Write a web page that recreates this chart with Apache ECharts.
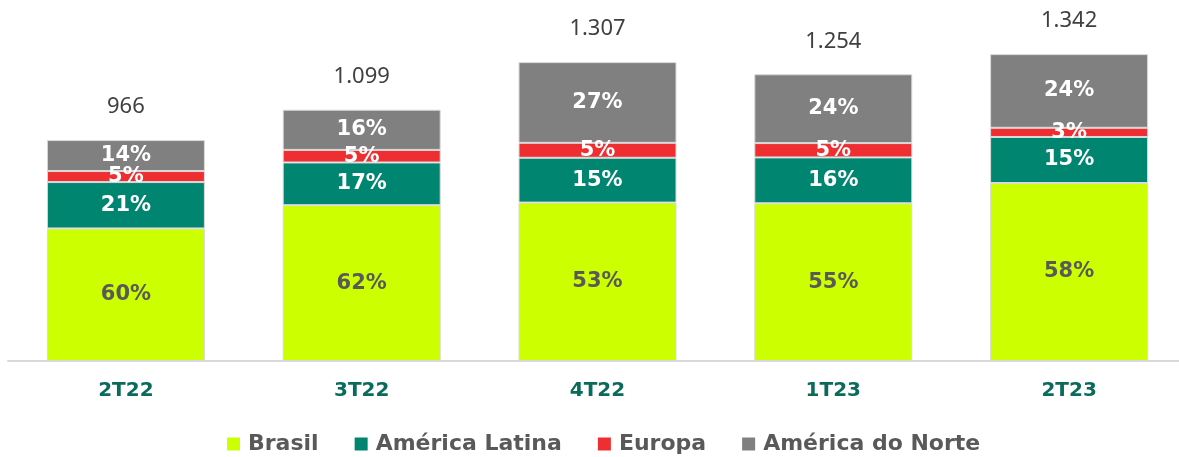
<!DOCTYPE html>
<html>
<head>
<meta charset="utf-8">
<script src="https://cdn.jsdelivr.net/npm/echarts@6/dist/echarts.min.js"></script>
<style>
  html, body { margin: 0; padding: 0; background: #fff; }
  #chart { width: 1179px; height: 457px; }
</style>
</head>
<body>
<div id="chart"></div>
<script>
  // trimestres e totais
  var categories = ['2T22', '3T22', '4T22', '1T23', '2T23'];
  var totals = [966, 1099, 1307, 1254, 1342];
  var totalLabels = ['966', '1.099', '1.307', '1.254', '1.342'];
  // participação por região (%)
  var brasil = [60, 62, 53, 55, 58];
  var americaLatina = [21, 17, 15, 16, 15];
  var europa = [5, 5, 5, 5, 3];
  var americaNorte = [14, 16, 27, 24, 24];

  var font = "'DejaVu Sans', sans-serif";
  var chart = echarts.init(document.getElementById('chart'));

  function seg(name, pcts, color, labelColor) {
    return {
      name: name,
      type: 'bar',
      stack: 'total',
      barWidth: '67%',
      data: pcts.map(function (p, i) { return totals[i] * p / 100; }),
      itemStyle: { color: color, borderColor: '#d9d9d9', borderWidth: 1 },
      label: {
        show: true,
        position: 'inside',
        color: labelColor,
        fontFamily: font,
        fontWeight: 'bold',
        fontSize: 21,
        formatter: function (params) { return pcts[params.dataIndex] + '%'; }
      },
      emphasis: { disabled: true }
    };
  }

  var option = {
    backgroundColor: '#fff',
    animation: false,
    grid: { left: 8, width: 1179, top: 18, bottom: 96, outerBoundsMode: 'none' },
    legend: {
      bottom: -3,
      left: 222,
      itemWidth: 13,
      itemHeight: 13,
      itemGap: 36,
      icon: 'rect',
      itemStyle: { borderWidth: 0 },
      data: ['Brasil', 'América Latina', 'Europa', 'América do Norte'],
      textStyle: { color: '#595959', fontFamily: font, fontWeight: 'bold', fontSize: 22, padding: [0, 0, 0, 3] }
    },
    xAxis: {
      type: 'category',
      data: categories,
      axisLine: { show: true, lineStyle: { color: '#d9d9d9', width: 2 } },
      axisTick: { show: false },
      axisLabel: { color: '#0b6b5b', fontFamily: font, fontWeight: 'bold', fontSize: 20, margin: 20 }
    },
    yAxis: {
      type: 'value',
      min: 0,
      max: 1500,
      show: false
    },
    series: [
      seg('Brasil', brasil, '#ccff00', '#595959'),
      seg('América Latina', americaLatina, '#008571', '#ffffff'),
      seg('Europa', europa, '#ee2e31', '#ffffff'),
      seg('América do Norte', americaNorte, '#808080', '#ffffff'),
      {
        name: 'Total',
        type: 'bar',
        stack: 'total',
        data: totals.map(function () { return 0; }),
        label: {
          show: true,
          position: 'top',
          distance: 22,
          color: '#404040',
          fontFamily: "'Noto Sans', sans-serif",
          fontSize: 22,
          formatter: function (params) { return totalLabels[params.dataIndex]; }
        },
        itemStyle: { color: 'transparent' },
        emphasis: { disabled: true },
        legendHoverLink: false
      }
    ]
  };
  chart.setOption(option);
</script>
</body>
</html>
